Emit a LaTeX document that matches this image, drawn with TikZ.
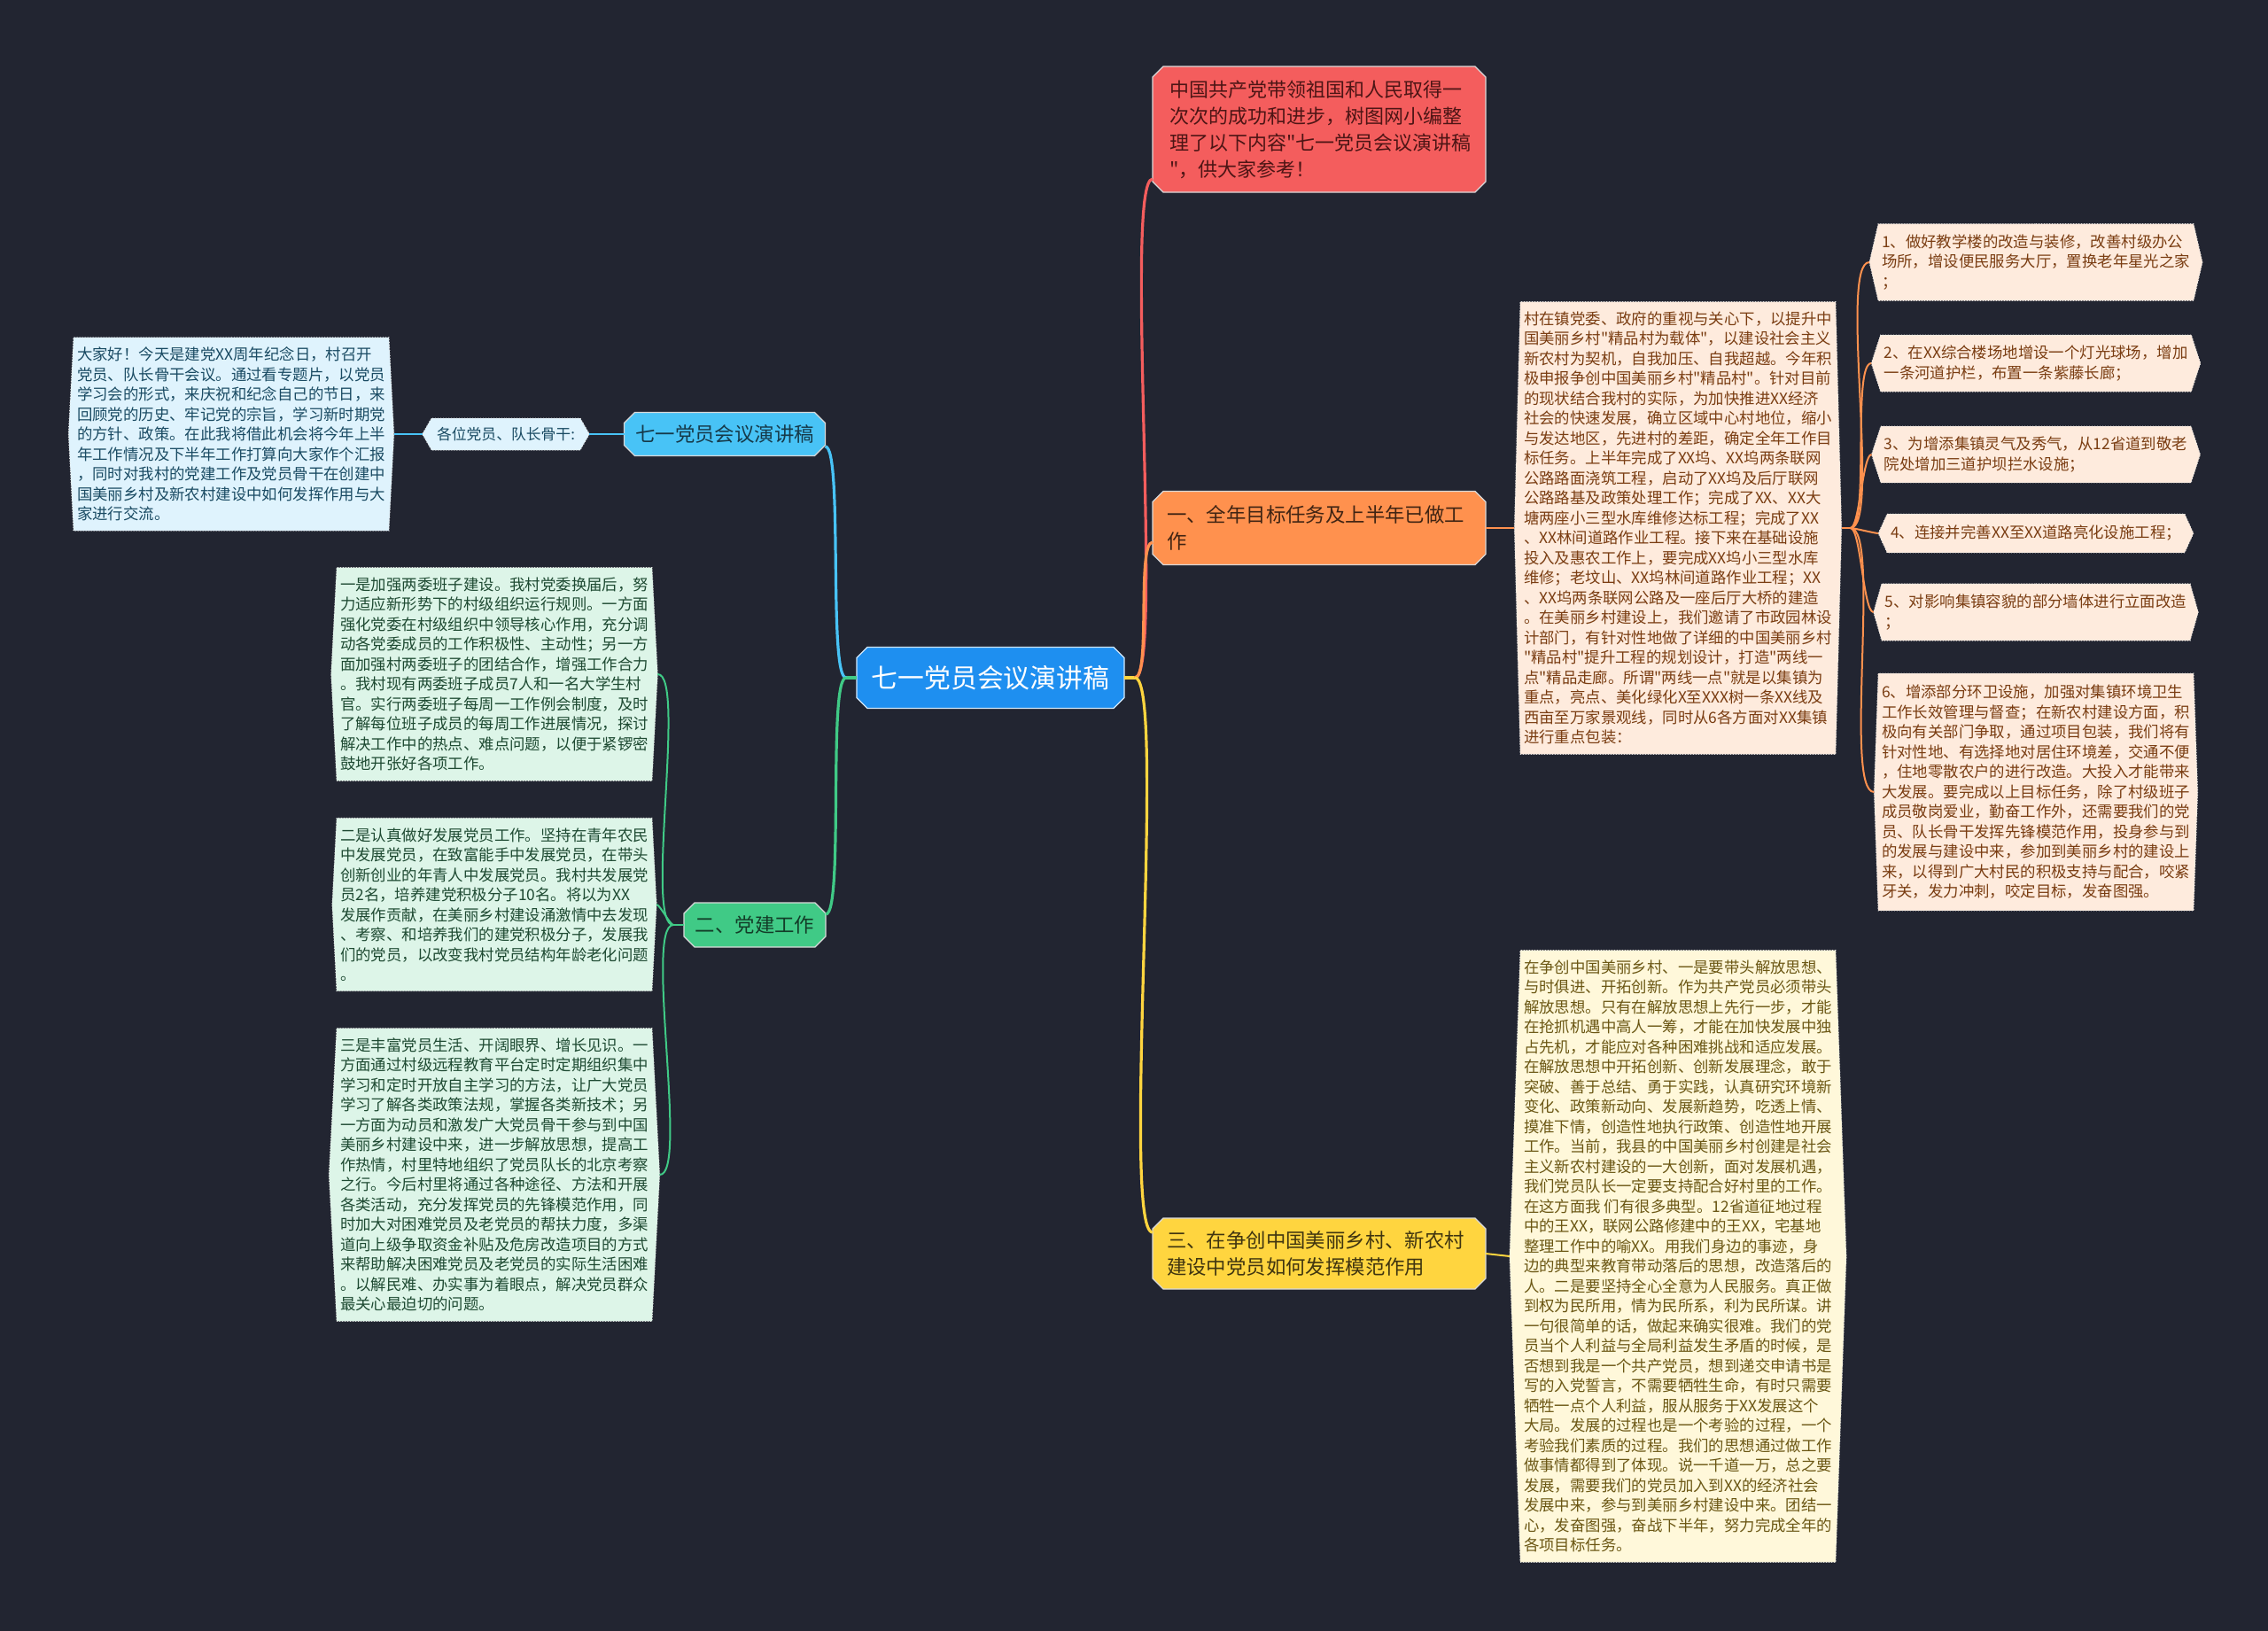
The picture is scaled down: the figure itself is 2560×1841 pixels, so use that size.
\documentclass[tikz,border=0pt]{standalone}
\usepackage{fontspec}
\setmainfont{Noto Sans CJK SC}[Ligatures=TeXOff]
\usepackage{tikz}
\usetikzlibrary{shapes.misc,shapes.symbols}
\definecolor{MapBg}{HTML}{222531}
\definecolor{MapRoot}{HTML}{1E8FF0}
\definecolor{MapCyan}{HTML}{48C3F6}
\definecolor{MapCyanPale}{HTML}{DFF3FD}
\definecolor{MapCyanText}{HTML}{1A4B63}
\definecolor{MapGreen}{HTML}{40CA86}
\definecolor{MapGreenPale}{HTML}{DDF5E8}
\definecolor{MapGreenText}{HTML}{1E4A32}
\definecolor{MapRed}{HTML}{F45D5D}
\definecolor{MapRedText}{HTML}{4D1515}
\definecolor{MapOrange}{HTML}{FF914E}
\definecolor{MapOrangePale}{HTML}{FEEBDD}
\definecolor{MapOrangeText}{HTML}{7A3D12}
\definecolor{MapYellow}{HTML}{FFD53F}
\definecolor{MapYellowPale}{HTML}{FFF8DA}
\definecolor{MapYellowText}{HTML}{6B5714}

\begin{document}
\begin{tikzpicture}[x=0.5pt,y=-0.5pt,
  every node/.style={inner sep=0pt,outer sep=0pt},
  rootnode/.style={chamfered rectangle,chamfered rectangle xsep=3pt,chamfered rectangle ysep=3pt,
    fill=MapRoot,draw=white!80!MapRoot,line width=0.6pt,text=white,
    minimum width=151pt,minimum height=34.5pt,font=\fontsize{14.9pt}{18pt}\selectfont},
  topic/.style={chamfered rectangle,chamfered rectangle xsep=3pt,chamfered rectangle ysep=3pt,
    draw=white!85!black,line width=0.6pt,font=\fontsize{11.2pt}{15pt}\selectfont},
  leaf/.style={signal,signal to=west and east,signal pointer angle=#1,
    draw=white!75!gray,densely dotted,line width=0.5pt,inner xsep=2pt,inner ysep=5.5pt,
    align=left,font=\fontsize{8.7pt}{11.25pt}\selectfont},
  leaf/.default=174,
  link/.style={line width=1.6pt},
  twig/.style={line width=1pt}]
\useasboundingbox (0,0) rectangle (2560,1841);
\fill[MapBg] (0,0) rectangle (2560,1841);

% centre and main branches
\node[rootnode] (root) at (1118,765) {七一党员会议演讲稿};
\node[topic,fill=MapRed,text=MapRedText,text width=169pt,inner xsep=6.5pt,
  minimum height=71pt,align=left,font=\fontsize{11pt}{15pt}\selectfont] (intro) at (1489,146)
  {中国共产党带领祖国和人民取得一\\次次的成功和进步，树图网小编整\\理了以下内容"七一党员会议演讲稿\\"，供大家参考！};
\node[topic,fill=MapOrange,text=black!75!MapOrange,text width=172pt,inner xsep=5pt,
  minimum height=41.5pt,align=left] (goal) at (1489,596)
  {一、全年目标任务及上半年已做工\\作};
\node[topic,fill=MapYellow,text=black!75!MapYellow,text width=172pt,inner xsep=5pt,
  minimum height=40pt,align=left] (role) at (1489,1415)
  {三、在争创中国美丽乡村、新农村\\建设中党员如何发挥模范作用};
\node[topic,fill=MapCyan,text=black!70!MapCyan,minimum width=113.5pt,
  minimum height=24.5pt] (title) at (818,490) {七一党员会议演讲稿};
\node[topic,fill=MapGreen,text=black!70!MapGreen,minimum width=80pt,
  minimum height=25pt] (party) at (852,1044) {二、党建工作};

% left side
\node[leaf=120,fill=MapCyanPale,text=MapCyanText,inner xsep=3pt,inner ysep=0pt,
  minimum height=18pt,font=\fontsize{8.4pt}{10pt}\selectfont] (greet) at (571,490)
  {各位党员、队长骨干:};
\node[leaf,fill=MapCyanPale,text=MapCyanText] (speech) at (261,490)
  {大家好！今天是建党XX周年纪念日，村召开\\党员、队长骨干会议。通过看专题片，以党员\\学习会的形式，来庆祝和纪念自己的节日，来\\回顾党的历史、牢记党的宗旨，学习新时期党\\的方针、政策。在此我将借此机会将今年上半\\年工作情况及下半年工作打算向大家作个汇报\\，同时对我村的党建工作及党员骨干在创建中\\国美丽乡村及新农村建设中如何发挥作用与大\\家进行交流。};
\node[leaf,fill=MapGreenPale,text=MapGreenText] (grow1) at (558,761)
  {一是加强两委班子建设。我村党委换届后，努\\力适应新形势下的村级组织运行规则。一方面\\强化党委在村级组织中领导核心作用，充分调\\动各党委成员的工作积极性、主动性；另一方\\面加强村两委班子的团结合作，增强工作合力\\。我村现有两委班子成员7人和一名大学生村\\官。实行两委班子每周一工作例会制度，及时\\了解每位班子成员的每周工作进展情况，探讨\\解决工作中的热点、难点问题，以便于紧锣密\\鼓地开张好各项工作。};
\node[leaf,fill=MapGreenPale,text=MapGreenText] (grow2) at (558,1021)
  {二是认真做好发展党员工作。坚持在青年农民\\中发展党员，在致富能手中发展党员，在带头\\创新创业的年青人中发展党员。我村共发展党\\员2名，培养建党积极分子10名。将以为XX\\发展作贡献，在美丽乡村建设涌激情中去发现\\、考察、和培养我们的建党积极分子，发展我\\们的党员，以改变我村党员结构年龄老化问题\\。};
\node[leaf,fill=MapGreenPale,text=MapGreenText] (grow3) at (558,1326)
  {三是丰富党员生活、开阔眼界、增长见识。一\\方面通过村级远程教育平台定时定期组织集中\\学习和定时开放自主学习的方法，让广大党员\\学习了解各类政策法规，掌握各类新技术；另\\一方面为动员和激发广大党员骨干参与到中国\\美丽乡村建设中来，进一步解放思想，提高工\\作热情，村里特地组织了党员队长的北京考察\\之行。今后村里将通过各种途径、方法和开展\\各类活动，充分发挥党员的先锋模范作用，同\\时加大对困难党员及老党员的帮扶力度，多渠\\道向上级争取资金补贴及危房改造项目的方式\\来帮助解决困难党员及老党员的实际生活困难\\。以解民难、办实事为着眼点，解决党员群众\\最关心最迫切的问题。};

% right side
\node[leaf=177,fill=MapOrangePale,text=MapOrangeText] (goaltxt) at (1894,596)
  {村在镇党委、政府的重视与关心下，以提升中\\国美丽乡村"精品村为载体"，以建设社会主义\\新农村为契机，自我加压、自我超越。今年积\\极申报争创中国美丽乡村"精品村"。针对目前\\的现状结合我村的实际，为加快推进XX经济\\社会的快速发展，确立区域中心村地位，缩小\\与发达地区，先进村的差距，确定全年工作目\\标任务。上半年完成了XX坞、XX坞两条联网\\公路路面浇筑工程，启动了XX坞及后厅联网\\公路路基及政策处理工作；完成了XX、XX大\\塘两座小三型水库维修达标工程；完成了XX\\、XX林间道路作业工程。接下来在基础设施\\投入及惠农工作上，要完成XX坞小三型水库\\维修；老坟山、XX坞林间道路作业工程；XX\\、XX坞两条联网公路及一座后厅大桥的建造\\。在美丽乡村建设上，我们邀请了市政园林设\\计部门，有针对性地做了详细的中国美丽乡村\\"精品村"提升工程的规划设计，打造"两线一\\点"精品走廊。所谓"两线一点"就是以集镇为\\重点，亮点、美化绿化X至XXX树一条XX线及\\西亩至万家景观线，同时从6各方面对XX集镇\\进行重点包装：};
\node[leaf=154,fill=MapOrangePale,text=MapOrangeText,inner ysep=6pt] (job1) at (2298,296)
  {1、做好教学楼的改造与装修，改善村级办公\\场所，增设便民服务大厅，置换老年星光之家\\；};
\node[leaf=144,fill=MapOrangePale,text=MapOrangeText,inner ysep=6pt] (job2) at (2298,410)
  {2、在XX综合楼场地增设一个灯光球场，增加\\一条河道护栏，布置一条紫藤长廊；};
\node[leaf=144,fill=MapOrangePale,text=MapOrangeText,inner ysep=6pt] (job3) at (2298,513)
  {3、为增添集镇灵气及秀气，从12省道到敬老\\院处增加三道护坝拦水设施；};
\node[leaf=131,fill=MapOrangePale,text=MapOrangeText,inner ysep=6.5pt] (job4) at (2298,602)
  {4、连接并完善XX至XX道路亮化设施工程；};
\node[leaf=148,fill=MapOrangePale,text=MapOrangeText,inner ysep=6pt] (job5) at (2298,691)
  {5、对影响集镇容貌的部分墙体进行立面改造\\；};
\node[leaf=176,fill=MapOrangePale,text=MapOrangeText,inner ysep=6.5pt] (job6) at (2298,894)
  {6、增添部分环卫设施，加强对集镇环境卫生\\工作长效管理与督查；在新农村建设方面，积\\极向有关部门争取，通过项目包装，我们将有\\针对性地、有选择地对居住环境差，交通不便\\，住地零散农户的进行改造。大投入才能带来\\大发展。要完成以上目标任务，除了村级班子\\成员敬岗爱业，勤奋工作外，还需要我们的党\\员、队长骨干发挥先锋模范作用，投身参与到\\的发展与建设中来，参加到美丽乡村的建设上\\来，以得到广大村民的积极支持与配合，咬紧\\牙关，发力冲刺，咬定目标，发奋图强。};
\node[leaf=176,fill=MapYellowPale,text=MapYellowText] (roletxt) at (1894,1418)
  {在争创中国美丽乡村、一是要带头解放思想、\\与时俱进、开拓创新。作为共产党员必须带头\\解放思想。只有在解放思想上先行一步，才能\\在抢抓机遇中高人一筹，才能在加快发展中独\\占先机，才能应对各种困难挑战和适应发展。\\在解放思想中开拓创新、创新发展理念，敢于\\突破、善于总结、勇于实践，认真研究环境新\\变化、政策新动向、发展新趋势，吃透上情、\\摸准下情，创造性地执行政策、创造性地开展\\工作。当前，我县的中国美丽乡村创建是社会\\主义新农村建设的一大创新，面对发展机遇，\\我们党员队长一定要支持配合好村里的工作。\\在这方面我 们有很多典型。12省道征地过程\\中的王XX，联网公路修建中的王XX，宅基地\\整理工作中的喻XX。用我们身边的事迹，身\\边的典型来教育带动落后的思想，改造落后的\\人。二是要坚持全心全意为人民服务。真正做\\到权为民所用，情为民所系，利为民所谋。讲\\一句很简单的话，做起来确实很难。我们的党\\员当个人利益与全局利益发生矛盾的时候，是\\否想到我是一个共产党员，想到递交申请书是\\写的入党誓言，不需要牺牲生命，有时只需要\\牺牲一点个人利益，服从服务于XX发展这个\\大局。发展的过程也是一个考验的过程，一个\\考验我们素质的过程。我们的思想通过做工作\\做事情都得到了体现。说一千道一万，总之要\\发展，需要我们的党员加入到XX的经济社会\\发展中来，参与到美丽乡村建设中来。团结一\\心，发奋图强，奋战下半年，努力完成全年的\\各项目标任务。};

% connectors
\coordinate (hubR) at ([xshift=6pt]root.east);
\coordinate (hubL) at ([xshift=-6pt]root.west);
\draw[link,MapYellow] (root.east) -- (hubR);
\draw[link,MapGreen] (root.west) -- (hubL);
\draw[link,MapRed] (hubR) to[out=0,in=180,looseness=0.15] ([yshift=-28pt]intro.west);
\draw[link,MapOrange] (hubR) to[out=0,in=180,looseness=0.3] ([yshift=-8pt]goal.west);
\draw[link,MapYellow] (hubR) to[out=0,in=180,looseness=0.15] ([yshift=12pt]role.west);
\draw[link,MapCyan] (hubL) to[out=180,in=0,looseness=0.2] ([yshift=-7pt]title.east);
\draw[link,MapGreen] (hubL) to[out=180,in=0,looseness=0.2] ([yshift=6pt]party.east);

\coordinate (partyL) at ([xshift=-6pt]party.west);
\draw[twig,MapGreen] (party.west) -- (partyL);
\foreach \b in {grow1,grow2,grow3}
  \draw[twig,MapGreen] (partyL) to[out=180,in=0,looseness=0.3] (\b.east);
\draw[twig,MapCyan] (title.west) -- (greet.east);
\draw[twig,MapCyan] (greet.west) -- (speech.east);

\draw[twig,MapOrange] (goal.east) -- (goaltxt.west);
\coordinate (goalR) at ([xshift=5pt]goaltxt.east);
\draw[twig,MapOrange] (goaltxt.east) -- (goalR);
\foreach \j in {job1,job2,job3,job4,job5,job6}
  \draw[twig,MapOrange] (goalR) to[out=0,in=180,looseness=0.3] (\j.west);
\draw[twig,MapYellow] (role.east) -- (roletxt.west);
\end{tikzpicture}
\end{document}
